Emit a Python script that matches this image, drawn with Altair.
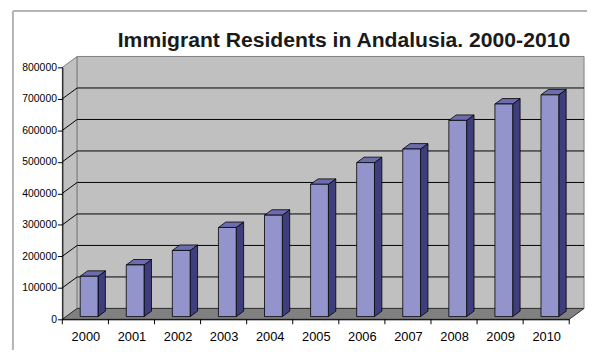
import altair as alt
import pandas as pd

# ---- data ----
years = [2000, 2001, 2002, 2003, 2004, 2005, 2006, 2007, 2008, 2009, 2010]
residents = [128000, 164000, 210000, 283000, 322000, 420000, 489000, 532000, 623000, 675000, 704000]
y_ticks = [0, 100000, 200000, 300000, 400000, 500000, 600000, 700000, 800000]
title_text = "Immigrant Residents in Andalusia. 2000-2010"

# ---- geometry (plot area = front plane) ----
W, H = 513, 255
X0, X1 = years[0] - 0.5, years[-1] + 0.5
YMAX = y_ticks[-1]
sx = W / (X1 - X0)
sy = H / YMAX
DX = 15 / sx      # wall depth, data units
DY = 11 / sy
HW = 9 / sx       # half bar width
FDX, FDY = DX * 0.25, DY * 0.25
BDX, BDY = DX * 0.5, DY * 0.5

xs = alt.Scale(domain=[X0, X1], nice=False, zero=False)
ys = alt.Scale(domain=[0, YMAX], nice=False, zero=False)
FONT = "Liberation Sans"

def X(f, axis=None):
    if axis is None:
        return alt.X(f, type="quantitative", scale=xs)
    return alt.X(f, type="quantitative", scale=xs, axis=axis)

def Y(f, axis=None):
    if axis is None:
        return alt.Y(f, type="quantitative", scale=ys)
    return alt.Y(f, type="quantitative", scale=ys, axis=axis)

# bars
front = pd.DataFrame({
    "year": years,
    "x": [yr - HW + FDX for yr in years],
    "x2": [yr + HW + FDX for yr in years],
    "y": [FDY] * len(years),
    "y2": [v + FDY for v in residents],
})
side_rows, top_rows = [], []
for yr, v in zip(years, residents):
    side_rows.append({"year": yr, "x": yr + HW + FDX, "y": FDY, "y2": v + FDY})
    side_rows.append({"year": yr, "x": yr + HW + FDX + BDX, "y": FDY + BDY, "y2": v + FDY + BDY})
    top_rows.append({"year": yr, "y": v + FDY, "x": yr - HW + FDX, "x2": yr + HW + FDX})
    top_rows.append({"year": yr, "y": v + FDY + BDY, "x": yr - HW + FDX + BDX, "x2": yr + HW + FDX + BDX})
side = pd.DataFrame(side_rows)
top = pd.DataFrame(top_rows)

# walls
left_wall = pd.DataFrame({"k": [0, 1], "x": [X0, X0 + DX], "y": [0, DY], "y2": [YMAX, YMAX + DY]})
back_wall = pd.DataFrame({"x": [X0 + DX], "x2": [X1 + DX], "y": [DY], "y2": [YMAX + DY]})
floor = pd.DataFrame({"k": [0, 1], "y": [0, DY], "x": [X0, X0 + DX], "x2": [X1, X1 + DX]})
grid_vals = y_ticks[1:-1]
back_grid = pd.DataFrame({"x": [X0 + DX] * len(grid_vals), "x2": [X1 + DX] * len(grid_vals),
                          "y": [v + DY for v in grid_vals]})
side_grid = pd.DataFrame({"x": [X0] * len(grid_vals), "x2": [X0 + DX] * len(grid_vals),
                          "y": grid_vals, "y2": [v + DY for v in grid_vals]})
bounds = pd.DataFrame({"x": [yr - 0.5 for yr in years] + [X1]})

x_axis = alt.Axis(values=years, format="d", title=None, ticks=False, tickSize=0,
                  labelFont=FONT, labelFontSize=13, labelColor="black", labelPadding=11,
                  domainColor="black", domainWidth=1, grid=False, zindex=1,
                  labelOverlap=False)
y_axis = alt.Axis(values=y_ticks, format="d", title=None, tickSize=5, tickColor="black",
                  tickWidth=1, labelFont=FONT, labelFontSize=10.5, labelColor="black",
                  labelPadding=1, domainColor="black", domainWidth=1, grid=False,
                  zindex=1, labelOverlap=False, labelBound=False, labelFlush=False,
                  tickCount=9)

layers = []

# outer border (top and left)
one = alt.Data(values=[{}])
layers.append(alt.Chart(one).mark_rule(color="#B4B4B4", strokeWidth=2).encode(
    x=alt.value(-50), x2=alt.value(531), y=alt.value(-57)))
layers.append(alt.Chart(one).mark_rule(color="#B4B4B4", strokeWidth=2).encode(
    x=alt.value(-50), y=alt.value(-57), y2=alt.value(290)))

layers.append(alt.Chart(left_wall).mark_area(orient="vertical", fill="#C0C0C0", stroke="#808080",
                                             strokeWidth=1).encode(
    x=X("x", x_axis), y=Y("y", y_axis), y2="y2"))
layers.append(alt.Chart(back_wall).mark_rect(fill="#C0C0C0", stroke="#808080", strokeWidth=1).encode(
    x=X("x"), x2="x2", y=Y("y"), y2="y2"))
layers.append(alt.Chart(floor).mark_area(orient="horizontal", fill="#808080", stroke="#303030",
                                         strokeWidth=1).encode(
    y=Y("y"), x=X("x"), x2="x2"))
layers.append(alt.Chart(back_grid).mark_rule(color="black", strokeWidth=1).encode(
    x=X("x"), x2="x2", y=Y("y")))
layers.append(alt.Chart(side_grid).mark_rule(color="black", strokeWidth=1).encode(
    x=X("x"), x2="x2", y=Y("y"), y2="y2"))

# bars
layers.append(alt.Chart(side).mark_area(orient="vertical", fill="#3E3E7C", stroke="black",
                                        strokeWidth=0.8).encode(
    x=X("x"), y=Y("y"), y2="y2", detail="year:N"))
layers.append(alt.Chart(top).mark_area(orient="horizontal", fill="#6C6CB0", stroke="black",
                                       strokeWidth=0.8).encode(
    y=Y("y"), x=X("x"), x2="x2", detail="year:N"))
layers.append(alt.Chart(front).mark_rect(fill="#9494CC", stroke="black", strokeWidth=0.8).encode(
    x=X("x"), x2="x2", y=Y("y2"), y2="y"))

# x tick marks at category boundaries
layers.append(alt.Chart(bounds).mark_rule(color="black", strokeWidth=1).encode(
    x=X("x"), y=alt.value(H), y2=alt.value(H + 5)))

# title
layers.append(alt.Chart(alt.Data(values=[{"t": title_text}])).mark_text(
    font=FONT, fontSize=21.4, fontWeight="bold", color="#1a1a1a", align="center",
    baseline="alphabetic").encode(text="t:N", x=alt.value(285), y=alt.value(-21)))

chart = alt.layer(*layers).properties(
    width=W, height=H,
    autosize=alt.AutoSizeParams(type="none"),
    padding={"left": 55, "top": 58, "right": 18, "bottom": 29},
    background="white",
).configure_view(stroke=None).configure_axis(labelOverlap=False).configure_axisY(
    labelOverlap=False)

chart.save("out.html", embed_options={"renderer": "svg", "actions": False})
